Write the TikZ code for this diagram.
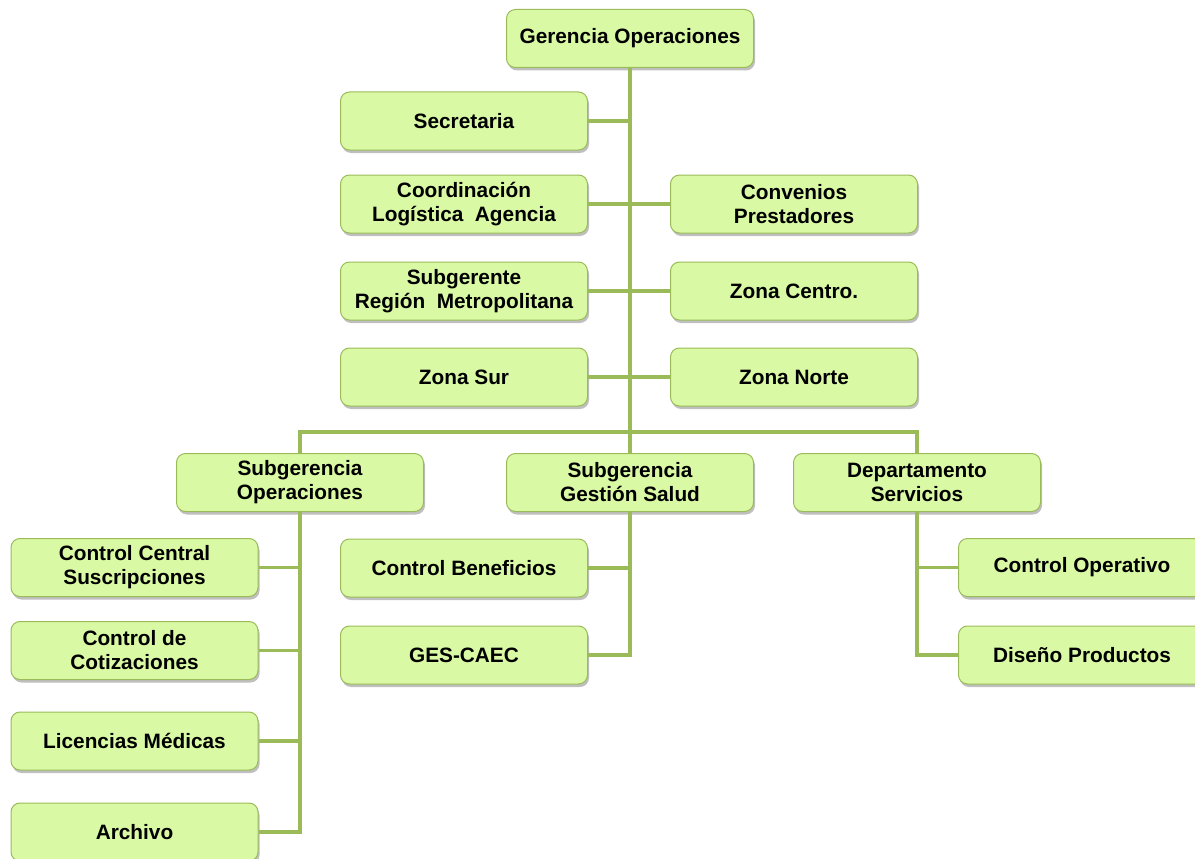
\documentclass[tikz,border=0pt]{standalone}
\usepackage{fontspec}
\setmainfont{Liberation Sans}
\usetikzlibrary{shadows}
\definecolor{boxfill}{HTML}{D9F9A5}
\definecolor{boxedge}{HTML}{9BBB59}
\definecolor{linkgreen}{HTML}{9BBB59}
\begin{document}
\begin{tikzpicture}[x=1pt,y=-1pt,
  unit/.style={draw=boxedge, line width=1pt, fill=boxfill, rounded corners=9pt,
    minimum width=247pt, minimum height=58pt, align=center, inner sep=2pt,
    font=\fontsize{20.8}{24}\selectfont\bfseries,
    drop shadow={shadow xshift=1.5pt, shadow yshift=-3pt, opacity=0.25, fill=black}},
  link/.style={draw=linkgreen, line width=3.2pt}]
\useasboundingbox (0,0) rectangle (1195,859);

% top level
\node[unit] (ger) at (630,38.5) {Gerencia Operaciones};

% staff units along the trunk
\node[unit] (sec) at (464,121) {Secretaria};
\node[unit] (col) at (464,204) {Coordinación\\Logística~ Agencia};
\node[unit] (con) at (794,204) {Convenios\\Prestadores};
\node[unit] (srm) at (464,291) {Subgerente\\Región~ Metropolitana};
\node[unit] (zce) at (794,291) {Zona Centro.};
\node[unit] (zsu) at (464,377) {Zona Sur};
\node[unit] (zno) at (794,377) {Zona Norte};

% second level
\node[unit] (sop) at (300,482.5) {Subgerencia\\Operaciones};
\node[unit] (sgs) at (630,482.5) {Subgerencia\\Gestión Salud};
\node[unit] (dep) at (917,482.5) {Departamento\\Servicios};

% Subgerencia Operaciones
\node[unit] (ccs) at (134.5,567.5) {Control Central\\Suscripciones};
\node[unit] (cco) at (134.5,650.5) {Control de\\Cotizaciones};
\node[unit] (lic) at (134.5,741) {Licencias Médicas};
\node[unit] (arc) at (134.5,832) {Archivo};

% Subgerencia Gestión Salud
\node[unit] (cbe) at (464,568) {Control Beneficios};
\node[unit] (ges) at (464,655) {GES-CAEC};

% Departamento Servicios
\node[unit] (cop) at (1082,567.5) {Control Operativo};
\node[unit] (dis) at (1082,655) {Diseño Productos};

% trunk and level bar
\coordinate (hub) at (630,432);
\draw[link] (ger.south) -- (hub);
\foreach \n in {sec,col,srm,zsu}
  \draw[link] (\n.east) -- (\n.east -| hub);
\foreach \n in {con,zce,zno}
  \draw[link] (\n.west) -- (\n.west -| hub);
\draw[link] (sop.north) |- (hub) -| (dep.north);
\draw[link] (hub) -- (sgs.north);

% branches
\draw[link] (sop.south) |- (arc.east);
\foreach \n in {ccs,cco,lic}
  \draw[link] (\n.east) -- (\n.east -| sop.south);
\draw[link] (sgs.south) |- (ges.east);
\draw[link] (cbe.east) -- (cbe.east -| sgs.south);
\draw[link] (dep.south) |- (dis.west);
\draw[link] (cop.west) -- (cop.west -| dep.south);
\end{tikzpicture}
\end{document}
